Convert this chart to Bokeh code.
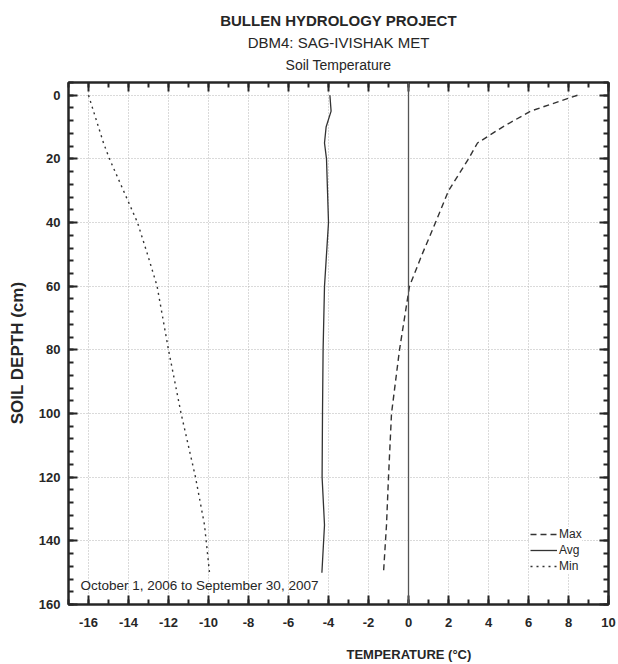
from bokeh.plotting import figure
from bokeh.models import (Range1d, LinearAxis, SingleIntervalTicker, Span, Label, Title,
                          Legend, LegendItem, CustomJSTickFormatter)
from bokeh.embed import file_html
from bokeh.resources import INLINE

# ---- data ----
depth = [0, 5, 10, 15, 20, 30, 40, 50, 60, 80, 100, 120, 135, 150]
t_max = [8.45, 6.1, 4.7, 3.45, 3.0, 2.0, 1.35, 0.68, 0.05, -0.45, -0.85, -1.0, -1.1, -1.25]
t_avg = [-3.93, -3.87, -4.12, -4.2, -4.1, -4.05, -4.0, -4.1, -4.2, -4.27, -4.3, -4.32, -4.2, -4.33]
t_min = [-16.0, -15.75, -15.5, -15.25, -14.95, -14.25, -13.55, -13.05, -12.57, -12.0, -11.37, -10.65, -10.2, -9.95]

title1 = "BULLEN HYDROLOGY PROJECT"
title2 = "DBM4: SAG-IVISHAK MET"
title3 = "Soil Temperature"
x_title = "TEMPERATURE (°C)"
y_title = "SOIL DEPTH (cm)"
period = "October 1, 2006 to September 30, 2007"

FONT = "Liberation Sans"
INK = "#262626"
NB = "\u00a0"

p = figure(width=618, height=664, x_range=Range1d(-17, 10), y_range=Range1d(160, -4),
           output_backend="svg", toolbar_location=None,
           min_border_left=68, min_border_right=10, min_border_top=82, min_border_bottom=60)
p.background_fill_color = "white"
p.border_fill_color = "white"
p.outline_line_color = INK
p.outline_line_width = 2

xt = SingleIntervalTicker(interval=2, num_minor_ticks=2)
yt = SingleIntervalTicker(interval=20, num_minor_ticks=5)
num_fmt = CustomJSTickFormatter(code="return tick.toFixed(0);")
blank_fmt = CustomJSTickFormatter(code="return '';")

def style_axis(ax, labels=True):
    ax.axis_line_color = INK
    ax.axis_line_width = 2
    ax.major_tick_line_color = INK
    ax.minor_tick_line_color = INK
    ax.major_tick_line_width = 2
    ax.minor_tick_line_width = 2
    ax.major_tick_in = 9
    ax.major_tick_out = 0
    ax.minor_tick_in = 5
    ax.minor_tick_out = 0
    ax.major_label_text_font = FONT
    ax.major_label_text_font_style = "bold"
    ax.major_label_text_color = INK
    ax.major_label_text_font_size = "13px"
    ax.axis_label_text_font = FONT
    ax.axis_label_text_font_style = "bold"
    ax.axis_label_text_color = INK
    if labels:
        ax.formatter = num_fmt
    else:
        ax.formatter = blank_fmt
        ax.major_label_standoff = 0

p.xaxis.ticker = xt
p.yaxis.ticker = yt
p.xgrid.ticker = xt
p.ygrid.ticker = yt
for ax in p.xaxis:
    style_axis(ax)
    ax.major_label_standoff = 13
    ax.axis_label = NB * 39 + x_title
    ax.axis_label_text_font_size = "13px"
    ax.axis_label_standoff = 17
for ax in p.yaxis:
    style_axis(ax)
    ax.major_label_standoff = 8
    ax.axis_label = y_title + NB * 4
    ax.axis_label_text_font_size = "17px"
    ax.axis_label_standoff = 9

# top axis carries the third title line as its label
top = LinearAxis(ticker=xt)
style_axis(top, labels=False)
top.axis_label = title3
top.axis_label_text_font_style = "normal"
top.axis_label_text_font_size = "14px"
top.axis_label_standoff = 10
right = LinearAxis(ticker=yt)
style_axis(right, labels=False)
p.add_layout(top, "above")
p.add_layout(right, "right")

p.add_layout(Title(text=title2, align="center", text_font=FONT, text_font_size="15px",
                   text_font_style="normal", text_color=INK, standoff=6), "above")
p.add_layout(Title(text=title1, align="center", text_font=FONT, text_font_size="15px",
                   text_font_style="bold", text_color=INK, standoff=0), "above")

for g in (p.xgrid, p.ygrid):
    g.grid_line_color = "#b4b4b4"
    g.grid_line_dash = "1 2"
    g.grid_line_width = 1

p.add_layout(Span(location=0, dimension="height", line_color="#555555", line_width=1.3))

r_max = p.line(t_max, depth, line_color="#333333", line_width=1.4, line_dash="6 4")
r_avg = p.line(t_avg, depth, line_color="#333333", line_width=1.3)
r_min = p.line(t_min, depth, line_color="#333333", line_width=1.4, line_dash="2 4")

legend = Legend(items=[LegendItem(label="Max", renderers=[r_max]),
                       LegendItem(label="Avg", renderers=[r_avg]),
                       LegendItem(label="Min", renderers=[r_min])],
                location=(462, 31), glyph_width=27, glyph_height=14, label_height=14,
                spacing=2, padding=3, margin=0, label_standoff=2,
                label_text_font=FONT, label_text_font_size="12px", label_text_color=INK,
                border_line_color=None, background_fill_color="white", background_fill_alpha=1)
p.add_layout(legend)

p.add_layout(Label(x=-16.4, y=154.0, text=period, text_font=FONT, text_font_size="13.5px",
                   text_color=INK, text_align="left", text_baseline="middle"))

open("out.html", "w").write(file_html(p, INLINE))
